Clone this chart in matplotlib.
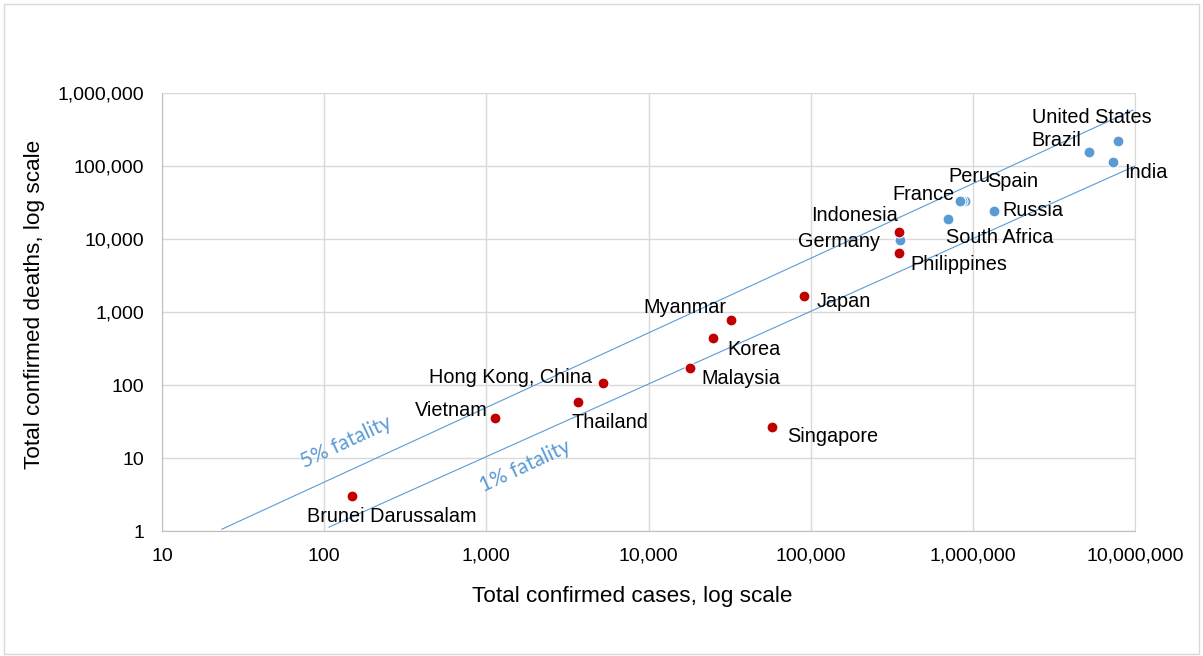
import matplotlib.pyplot as plt
from matplotlib.patches import Rectangle
from matplotlib.ticker import FixedLocator, FuncFormatter

plt.rcParams['font.family'] = ['Liberation Sans', 'DejaVu Sans']

# Asia (red)
asia_names = ["Brunei Darussalam", "Vietnam", "Thailand", "Hong Kong, China", "Malaysia",
              "Korea", "Myanmar", "Singapore", "Japan", "Indonesia", "Philippines"]
asia_cases = [148, 1130, 3670, 5240, 18000, 24900, 32200, 57700, 90800, 350000, 352000]
asia_deaths = [3, 35, 59, 106, 171, 440, 777, 27, 1657, 12470, 6430]

# rest of world (blue)
world_names = ["Germany", "South Africa", "Spain", "Peru", "France", "Russia",
               "Brazil", "India", "United States"]
world_cases = [354000, 702000, 893000, 857000, 832000, 1346000, 5190000, 7300000, 7830000]
world_deaths = [9690, 18800, 33400, 33400, 33200, 24200, 155600, 113500, 220000]

# fatality reference lines (endpoints)
line_x = [[23.4, 9700000], [107, 10000000]]
line_y = [[1.06, 585000], [1.13, 100000]]
line_labels = ["5% fatality", "1% fatality"]

ticks_x = [10, 100, 1000, 10000, 100000, 1000000, 10000000]
ticks_y = [1, 10, 100, 1000, 10000, 100000, 1000000]

# label offsets in pixels (dx, dy, ha)
offsets = {
    "Brunei Darussalam": (40, -20, "center"), "Vietnam": (-7, 8, "right"),
    "Thailand": (-6, -21, "left"), "Hong Kong, China": (-11, 6, "right"),
    "Malaysia": (11, -10, "left"), "Korea": (15, -11, "left"),
    "Myanmar": (-5, 13, "right"), "Singapore": (15, -10, "left"),
    "Japan": (13, -5, "left"), "Indonesia": (-1, 17, "right"),
    "Philippines": (11, -11, "left"), "Germany": (-20, -1, "right"),
    "South Africa": (-2, -18, "left"), "Peru": (-14, 24, "left"),
    "Spain": (22, 19, "left"), "France": (-5, 6, "right"),
    "Russia": (9, 1, "left"), "Brazil": (-8, 12, "right"),
    "India": (11, -10, "left"), "United States": (-26, 24, "center"),
}

red = "#C00000"
blue = "#5B9BD5"

fig = plt.figure(figsize=(12.03, 6.56), dpi=100)
fig.patches.append(Rectangle((0.003, 0.003), 0.994, 0.991, transform=fig.transFigure,
                             fill=False, edgecolor="#D9D9D9", linewidth=1))
ax = fig.add_axes([0.1347, 0.1905, 0.8088, 0.6677])
ax.set_xscale("log")
ax.set_yscale("log")
ax.set_xlim(10, 10000000)
ax.set_ylim(1, 1000000)

for xs, ys in zip(line_x, line_y):
    ax.plot(xs, ys, color=blue, linewidth=0.8, zorder=2)

ax.scatter(world_cases, world_deaths, s=62, color=blue, edgecolors="white", linewidths=0.8, zorder=3)
ax.scatter(asia_cases, asia_deaths, s=62, color=red, edgecolors="white", linewidths=0.8, zorder=3)

for names, xs, ys in [(asia_names, asia_cases, asia_deaths), (world_names, world_cases, world_deaths)]:
    for n, x, y in zip(names, xs, ys):
        dx, dy, ha = offsets[n]
        ax.annotate(n, (x, y), xytext=(dx * 0.72, dy * 0.72), textcoords="offset points",
                    ha=ha, va="center", fontsize=14.3, color="#000000")

ax.text(136, 16.6, line_labels[0], rotation=25, color=blue, fontsize=15,
        family=["Lato", "DejaVu Sans"], ha="center", va="center", rotation_mode="anchor")
ax.text(1730, 7.8, line_labels[1], rotation=25, color=blue, fontsize=15,
        family=["Lato", "DejaVu Sans"], ha="center", va="center", rotation_mode="anchor")

fmt = FuncFormatter(lambda v, p: f"{v:,.0f}")
ax.xaxis.set_major_locator(FixedLocator(ticks_x))
ax.yaxis.set_major_locator(FixedLocator(ticks_y))
ax.xaxis.set_major_formatter(fmt)
ax.yaxis.set_major_formatter(fmt)
ax.minorticks_off()
ax.tick_params(length=0, labelsize=14, colors="#000000")
ax.tick_params(axis="x", pad=12)
ax.tick_params(axis="y", pad=13)
ax.grid(True, color="#D9D9D9", linewidth=1)
ax.set_axisbelow(True)
for s in ax.spines.values():
    s.set_color("#D9D9D9")
ax.spines["left"].set_color("#BFBFBF")
ax.spines["bottom"].set_color("#BFBFBF")

ax.set_xlabel("Total confirmed cases, log scale", fontsize=16.2, labelpad=14)
ax.xaxis.set_label_coords(0.4836, -0.125)
ax.set_ylabel("Total confirmed deaths, log scale", fontsize=16.2, labelpad=6)
ax.yaxis.set_label_coords(-0.1207, 0.518)

fig.savefig("out.png", dpi=100)
